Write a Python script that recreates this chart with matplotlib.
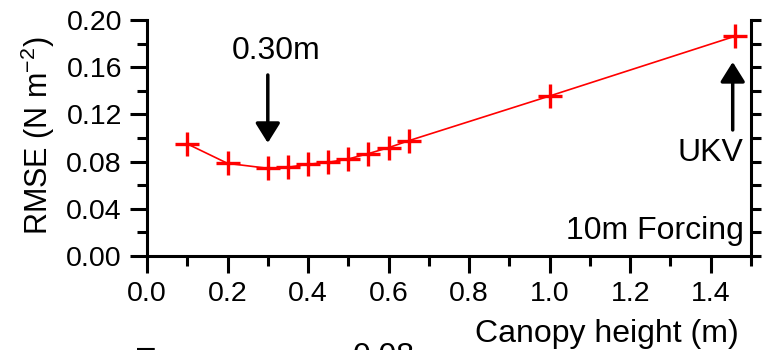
import matplotlib.pyplot as plt
from matplotlib.ticker import MultipleLocator

plt.rcParams["font.family"] = ["Liberation Sans", "DejaVu Sans"]
plt.rcParams["mathtext.fontset"] = "custom"
plt.rcParams["mathtext.rm"] = "Liberation Sans"
plt.rcParams["mathtext.it"] = "Liberation Sans:italic"

# ===== Data =====
canopy_height = [0.1, 0.2, 0.3, 0.35, 0.4, 0.45, 0.5, 0.55, 0.6, 0.65, 1.0, 1.46]
rmse = [0.095, 0.0785, 0.0743, 0.0752, 0.0777, 0.0794, 0.0822, 0.0868,
        0.0918, 0.0977, 0.1356, 0.1862]

x_ticks = [0.0, 0.2, 0.4, 0.6, 0.8, 1.0, 1.2, 1.4]
y_ticks = [0.00, 0.04, 0.08, 0.12, 0.16, 0.20]

TICK_FS = 20.5
TEXT_FS = 23
LW = 2.2

fig = plt.figure(figsize=(7.62, 3.5), dpi=100)
ax = fig.add_axes([0.1929, 0.2686, 0.7927, 0.6743])

ax.plot(canopy_height, rmse, color="red", lw=1.2, marker="+",
        markersize=17, markeredgewidth=2.4, clip_on=False, zorder=3)

ax.set_xlim(0, 1.5)
ax.set_ylim(0, 0.2)
ax.set_xticks(x_ticks)
ax.set_xticklabels([f"{v:.1f}" for v in x_ticks])
ax.set_yticks(y_ticks)
ax.set_yticklabels([f"{v:.2f}" for v in y_ticks])
ax.xaxis.set_minor_locator(MultipleLocator(0.1))
ax.yaxis.set_minor_locator(MultipleLocator(0.02))

ax.tick_params(which="major", direction="out", length=12, width=LW,
               labelsize=TICK_FS, pad=6)
ax.tick_params(which="minor", direction="out", length=7, width=LW)
ax.spines["top"].set_visible(False)
ax.spines["right"].set_visible(False)
for side in ["left", "bottom"]:
    ax.spines[side].set_linewidth(LW)

ax2 = ax.twinx()
ax2.set_ylim(0, 0.2)
ax2.yaxis.set_major_locator(MultipleLocator(0.02))
ax2.tick_params(axis="y", direction="out", length=7, width=LW, labelright=False)
for side in ["top", "left", "bottom"]:
    ax2.spines[side].set_visible(False)
ax2.spines["right"].set_linewidth(LW)

ax.set_ylabel("RMSE (N m$^{-2}$)", fontsize=22, va="center")
ax.yaxis.set_label_coords(-0.180, 0.508)

arrow_props = dict(arrowstyle="-|>,head_length=0.4,head_width=0.25",
                   color="black", lw=2.5, mutation_scale=30,
                   shrinkA=0, shrinkB=0)
ax.annotate("", xy=(0.30, 0.0958), xytext=(0.30, 0.1534),
            arrowprops=arrow_props)
ax.annotate("", xy=(1.4545, 0.1644), xytext=(1.4545, 0.1068),
            arrowprops=arrow_props)

ax.text(0.321, 0.1737, "0.30m", fontsize=TEXT_FS, ha="center", va="center")
ax.text(1.482, 0.0873, "UKV", fontsize=TEXT_FS, ha="right", va="center")
ax.text(1.482, 0.0215, "10m Forcing", fontsize=TEXT_FS, ha="right", va="center")

# x label sits to the right and is cut by the figure edge
fig.text(607 / 762, 1 - 319 / 350, "Canopy height (m)", fontsize=TEXT_FS,
         ha="center", va="top")
fig.text(753 / 762, 1 - 326 / 350, "_", fontsize=TICK_FS, ha="left", va="top")

# fragments of the panel below
fig.text(353 / 762, 1 - 342 / 350, "0.08", fontsize=TEXT_FS, ha="left", va="top")
fig.text(137 / 762, 1 - 334 / 350, "\u2013", fontsize=TEXT_FS, ha="left", va="top")

fig.savefig("out.png", dpi=100)
